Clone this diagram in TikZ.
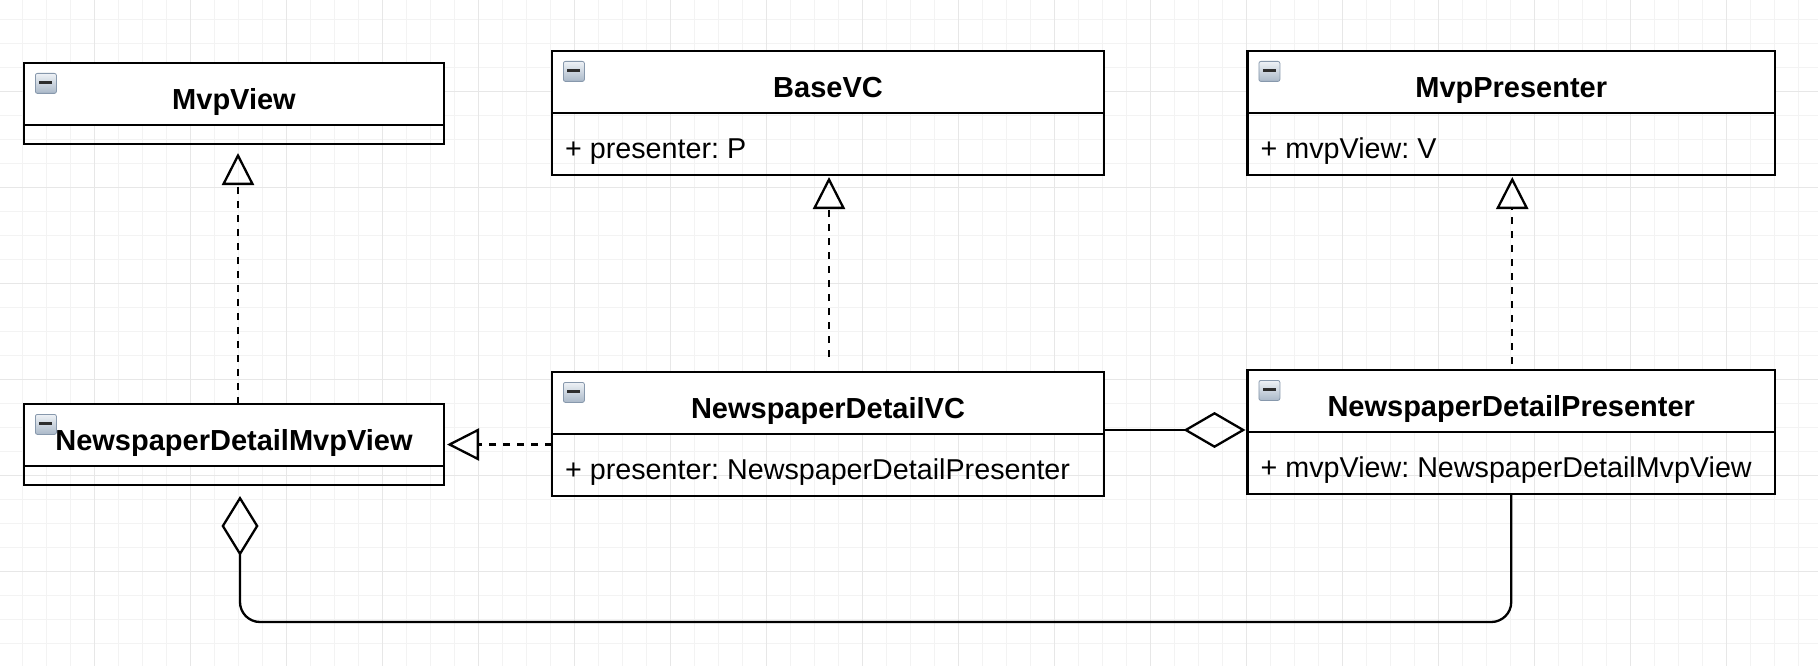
\documentclass[tikz,border=0pt]{standalone}
\usepackage{fontspec}
\setmainfont{Liberation Sans}
\usetikzlibrary{arrows.meta,calc}
\definecolor{gridminor}{RGB}{243,243,243}
\definecolor{gridmajor}{RGB}{231,231,231}
\definecolor{icontop}{RGB}{238,242,246}
\definecolor{iconbot}{RGB}{170,184,200}
\definecolor{iconedge}{RGB}{135,152,172}
\definecolor{iconbar}{RGB}{45,45,45}
\newcommand\umlclass[8]{%
  \fill[white] (#2,#3) rectangle ++(#4,#6);
  \node[classbox, minimum width=#4pt, minimum height=#5pt, anchor=north west] (#1) at (#2,#3) {};
  \draw[boxline] ([yshift=-#6pt]#1.north west) -- ([yshift=-#6pt]#1.north east);
  \node[titletext, anchor=base] (#1-title) at ([yshift=-46.5pt]#1.north) {#7};
  \node[attrtext, anchor=base west] (#1-attr) at ([xshift=13pt,yshift={-(#6+45.5)*1pt}]#1.north west) {#8};
  \node[umlicon, anchor=north west] (#1-icon) at ([xshift=11pt,yshift=-10pt]#1.north west) {};
}
\begin{document}
\frenchspacing
\begin{tikzpicture}[x=1pt,y=-1pt,
  classbox/.style={draw=black, line width=2.4pt, inner sep=0pt, outer sep=0pt},
  boxline/.style={draw=black, line width=2.4pt},
  titletext/.style={font=\fontsize{29}{34}\selectfont\bfseries, inner sep=0pt},
  attrtext/.style={font=\fontsize{28.7}{34}\selectfont, inner sep=0pt},
  umlicon/.style={draw=iconedge, line width=0.8pt, rounded corners=2pt, minimum width=21pt, minimum height=20pt, inner sep=0pt,
    top color=icontop, bottom color=iconbot,
    path picture={\draw[iconbar, line width=3pt] ([xshift=-6.5pt,yshift=1pt]path picture bounding box.center) -- ([xshift=6.5pt,yshift=1pt]path picture bounding box.center);}},
  dep/.style={line width=2.3pt, dash pattern=on 7pt off 7pt, -{Triangle[open,length=32pt,width=32pt]}},
  agg/.style={line width=2.3pt, -{Diamond[open,length=62pt,width=36pt]}},
  aggv/.style={line width=2.3pt, rounded corners=20pt, -{Diamond[open,length=60pt,width=37pt]}}
]
\useasboundingbox (0,0) rectangle (1818,666);
\fill[white] (0,0) rectangle (1818,666);
\foreach \i in {0,...,76} { \draw[gridminor, line width=1pt] ({-1.3+24*\i},0) -- ({-1.3+24*\i},666); }
\foreach \j in {0,...,28} { \draw[gridminor, line width=1pt] (0,{-4.3+24*\j}) -- (1818,{-4.3+24*\j}); }
\foreach \i in {0,...,19} { \draw[gridmajor, line width=1.2pt] ({-1.3+96*\i},0) -- ({-1.3+96*\i},666); }
\foreach \j in {0,...,7} { \draw[gridmajor, line width=1.2pt] (0,{-4.3+96*\j}) -- (1818,{-4.3+96*\j}); }

\umlclass{mvpview}{24}{63}{420}{81}{62}{MvpView}{}
\umlclass{basevc}{552}{51}{552}{124}{62}{BaseVC}{+ presenter: P}
\umlclass{mvppres}{1247.5}{51}{527.5}{124}{62}{MvpPresenter}{+ mvpView: V}
\umlclass{ndmv}{24}{404}{420}{81}{62}{NewspaperDetailMvpView}{}
\umlclass{ndvc}{552}{372}{552}{124}{62}{NewspaperDetailVC}{+ presenter: NewspaperDetailPresenter}
\umlclass{ndp}{1247.5}{370}{527.5}{124}{62}{NewspaperDetailPresenter}{+ mvpView: NewspaperDetailMvpView}

\draw[dep] ([xshift=4pt]ndmv.north) -- ([xshift=4pt,yshift=-9pt]mvpview.south);
\draw[dep] ([xshift=1pt,yshift=15pt]ndvc.north) -- ([xshift=1pt,yshift=-2pt]basevc.south);
\draw[dep] ([xshift=1pt,yshift=6pt]ndp.north) -- ([xshift=1pt,yshift=-2pt]mvppres.south);
\draw[dep] (ndvc.west |- ndmv.east) -- ([xshift=3pt]ndmv.east);

\coordinate (aggA) at ([yshift=-58pt]ndvc.north east);
\draw[agg] (aggA) -- ($(ndp.west |- aggA)+(-2,0)$);
\draw[aggv] (ndp.south) |- ($(ndmv.south)+(6,137)$) -- ($(ndmv.south)+(6,11)$);
\end{tikzpicture}
\end{document}
